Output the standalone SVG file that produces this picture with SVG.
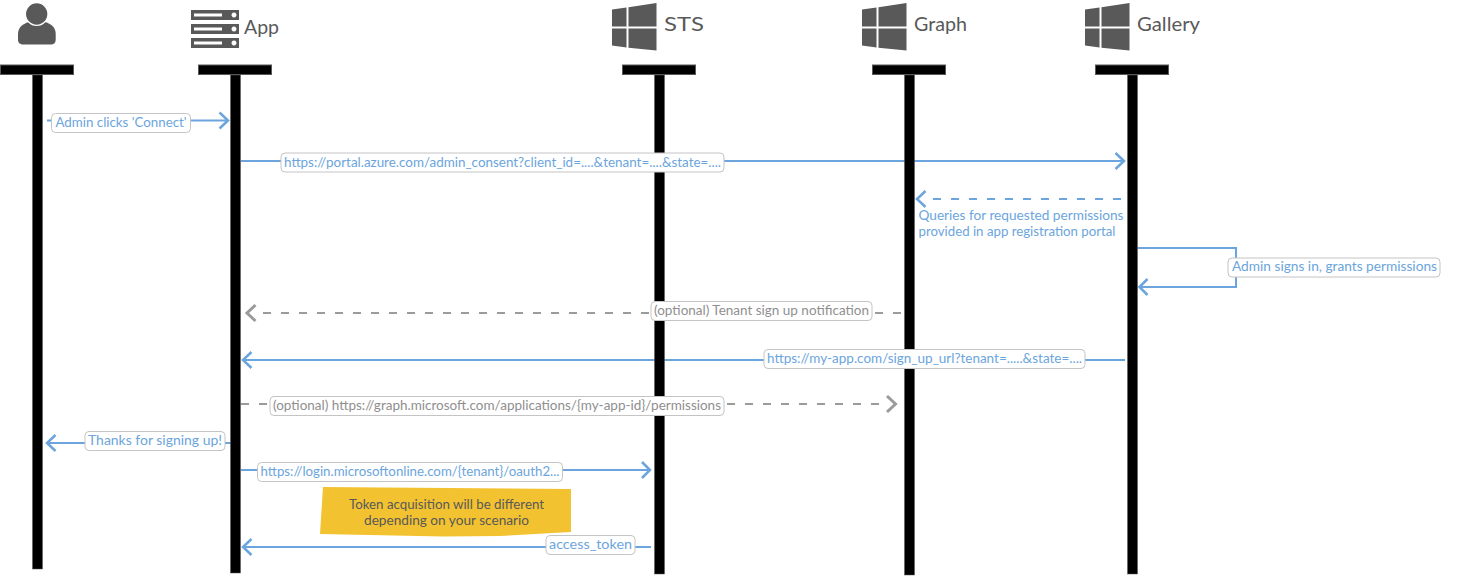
<svg xmlns="http://www.w3.org/2000/svg" width="1466" height="576" viewBox="0 0 1466 576">
<style>
text{font-family:"Lato","Noto Sans","Liberation Sans",sans-serif}
.head{fill:#000;stroke:#595959;stroke-width:1}
.life{fill:#000;stroke:#595959;stroke-width:.5}
.ic{fill:#595959}
.name{font-size:20px;fill:#595959}
.c{fill:none;stroke:#6ca5dd;stroke-width:2}
.g{fill:none;stroke:#9b9b9b;stroke-width:2;stroke-dasharray:8 10}
.d{stroke-dasharray:8 10}
.ah{fill:none;stroke:#6ca5dd;stroke-width:2.5}
.ahg{fill:none;stroke:#9b9b9b;stroke-width:3}
.lb{fill:#fff;stroke:#c4c4c4;stroke-width:1}
.t{font-size:12.5px;fill:#6ca5dd}
.tg{font-size:12.5px;fill:#8f8f8f}
.n{font-size:12.5px;fill:#595959;text-anchor:middle}
</style>
<defs>
<g id="win"><path class="ic" d="M0 6.500L14.500 4.500V23.500H0ZM16.500 4.200L44.500 0V23.500H16.500ZM0 25.500H14.500V44.500L0 42.500ZM16.500 25.500H44.500V47.500L16.500 44.800Z"/></g>
</defs>
<g id="connectors">
<path class="c" d="M47 120.500H52M190 120.500H226"/><path class="ah" d="M219.500 112.500L228 120.500L219.500 128.500"/>
<path class="c" d="M241 161H281M724 161H1122"/><path class="ah" d="M1115.500 153L1124 161L1115.500 169"/>
<path class="c d" d="M1121 199H933"/><path class="ah" d="M925.500 191L917 199L925.500 207"/>
<path class="c" d="M1138 248H1236V287H1140"/><path class="ah" d="M1147.500 279L1139.500 287L1147.500 295"/>
<path class="g" d="M901 313H263"/><path class="ahg" d="M255.500 305L247 313L255.500 321"/>
<path class="c" d="M1125 360H243"/><path class="ah" d="M251.500 352L243 360L251.500 368"/>
<path class="g" d="M241 404H880"/><path class="ahg" d="M887 396L895.500 404L887 412"/>
<path class="c" d="M232 443H48"/><path class="ah" d="M55.500 435L47 443L55.500 451"/>
<path class="c" d="M241 470H648"/><path class="ah" d="M642 462L650 470L642 478"/>
<path class="c" d="M651 547H243"/><path class="ah" d="M251.500 539L243 547L251.500 555"/>
</g>
<g id="actor"><path class="ic" d="M29 22C22 24 18 28 18 34V40C18 43 20.500 44.500 23 44.500H51C53.500 44.500 55.700 43 55.700 40V34C55.700 28 52 24 45 22Z"/><circle class="ic" cx="36.700" cy="14" r="11.300" stroke="#fff" stroke-width="1.300"/><rect class="head" x="0.500" y="65" width="73" height="9.500"/><rect class="life" x="32.500" y="75" width="10" height="494"/></g>
<g id="app"><path class="ic" fill-rule="evenodd" d="M191 10H239V20H191ZM194 13.500V16.500H222V13.500ZM234 12.500A2.500 2.500 0 1 0 234.010 12.500ZM191 24H239V34H191ZM194 27.500V30.500H222V27.500ZM234 26.500A2.500 2.500 0 1 0 234.010 26.500ZM191 38H239V48H191ZM194 41.500V44.500H222V41.500ZM234 40.500A2.500 2.500 0 1 0 234.010 40.500Z"/><text class="name" x="244" y="34" textLength="35" lengthAdjust="spacingAndGlyphs">App</text><rect class="head" x="198.500" y="65" width="73" height="9.500"/><rect class="life" x="230.500" y="75" width="10" height="498"/></g>
<g id="sts"><use href="#win" x="612" y="3"/><text class="name" x="664" y="31" textLength="40" lengthAdjust="spacingAndGlyphs">STS</text><rect class="head" x="622.500" y="65" width="73" height="9.500"/><rect class="life" x="654.500" y="75" width="10" height="499"/></g>
<g id="graph"><use href="#win" x="862" y="3"/><text class="name" x="914" y="31" textLength="53" lengthAdjust="spacingAndGlyphs">Graph</text><rect class="head" x="872.500" y="65" width="73" height="9.500"/><rect class="life" x="904.500" y="75" width="10" height="500"/></g>
<g id="gallery"><use href="#win" x="1085" y="3"/><text class="name" x="1137" y="31" textLength="63" lengthAdjust="spacingAndGlyphs">Gallery</text><rect class="head" x="1095.500" y="65" width="73" height="9.500"/><rect class="life" x="1127.500" y="75" width="10" height="499"/></g>
<g id="labels">
<rect class="lb" x="51.500" y="113.500" width="139" height="19" rx="4"/><text class="t" x="55.500" y="127" textLength="131" lengthAdjust="spacingAndGlyphs">Admin clicks 'Connect'</text>
<rect class="lb" x="281" y="153" width="443" height="19" rx="4"/><text class="t" x="284" y="166.500" textLength="437" lengthAdjust="spacingAndGlyphs">https://portal.azure.com/admin_consent?client_id=....&amp;tenant=....&amp;state=....</text>
<text class="t" x="918.500" y="220" textLength="205" lengthAdjust="spacingAndGlyphs">Queries for requested permissions</text>
<text class="t" x="918.500" y="236" textLength="197" lengthAdjust="spacingAndGlyphs">provided in app registration portal</text>
<rect class="lb" x="1228" y="258" width="212" height="19" rx="4"/><text class="t" x="1232" y="271" textLength="205" lengthAdjust="spacingAndGlyphs">Admin signs in, grants permissions</text>
<rect class="lb" x="651" y="301.500" width="221" height="19" rx="4"/><text class="tg" x="654" y="315" textLength="215" lengthAdjust="spacingAndGlyphs">(optional) Tenant sign up notification</text>
<rect class="lb" x="764" y="349.500" width="321" height="19" rx="4"/><text class="t" x="767" y="363" textLength="315" lengthAdjust="spacingAndGlyphs">https://my-app.com/sign_up_url?tenant=.....&amp;state=....</text>
<rect class="lb" x="270" y="396.500" width="454" height="19" rx="4"/><text class="tg" x="273" y="410" textLength="448" lengthAdjust="spacingAndGlyphs">(optional) https://graph.microsoft.com/applications/{my-app-id}/permissions</text>
<rect class="lb" x="85" y="431.500" width="140" height="19" rx="4"/><text class="t" x="88" y="445" textLength="134" lengthAdjust="spacingAndGlyphs">Thanks for signing up!</text>
<rect class="lb" x="257.500" y="462.500" width="305" height="19" rx="4"/><text class="t" x="260.500" y="476" textLength="299" lengthAdjust="spacingAndGlyphs">https://login.microsoftonline.com/{tenant}/oauth2...</text>
<rect class="lb" x="546" y="535.500" width="89" height="19" rx="4"/><text class="t" x="549" y="549" textLength="83" lengthAdjust="spacingAndGlyphs">access_token</text>
</g>
<g id="note"><path fill="#f2c230" d="M323 487L571 489L571 532L500 536L443 536.500L320 534Z"/>
<text class="n" x="446.500" y="509" textLength="195" lengthAdjust="spacingAndGlyphs">Token acquisition will be different</text>
<text class="n" x="446.500" y="525" textLength="165" lengthAdjust="spacingAndGlyphs">depending on your scenario</text></g>
</svg>
